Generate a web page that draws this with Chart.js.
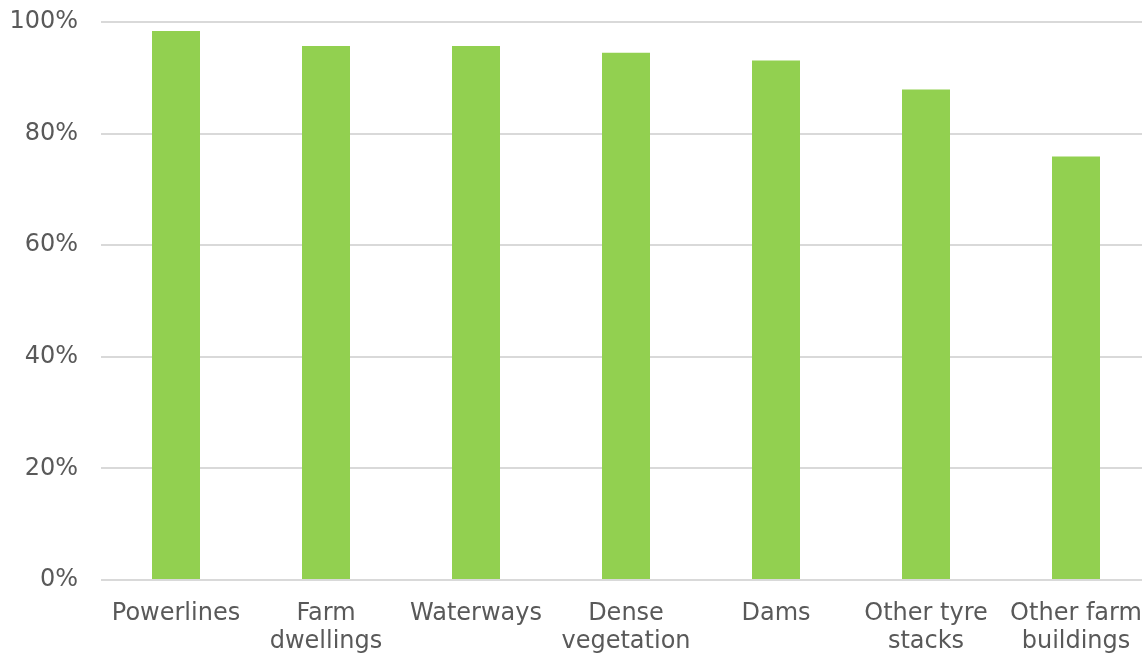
<!DOCTYPE html>
<html lang="en">
<head>
  <meta charset="UTF-8">
  <title>Risk sources</title>
  <script src="https://cdn.jsdelivr.net/npm/chart.js"></script>
  <style>
    html, body { margin: 0; padding: 0; overflow: hidden; background: #fff; }
    #wrap { position: absolute; left: 0; top: 0; width: 1160px; height: 680px; }
  </style>
</head>
<body>
  <div id="wrap"><canvas id="barChart"></canvas></div>

  <script>
    const categories = [
      'Powerlines',
      ['Farm', 'dwellings'],
      'Waterways',
      ['Dense', 'vegetation'],
      'Dams',
      ['Other tyre', 'stacks'],
      ['Other farm', 'buildings']
    ];
    const shares = [98.4, 95.7, 95.7, 94.5, 93.1, 87.9, 75.9];
    const yTicks = [0, 20, 40, 60, 80, 100];

    const textColor = '#595959';
    const font = { family: '"DejaVu Sans", Verdana, sans-serif', size: 24, lineHeight: 1.17 };

    new Chart(document.getElementById('barChart'), {
      type: 'bar',
      data: {
        labels: categories,
        datasets: [{
          data: shares,
          backgroundColor: '#92D050',
          categoryPercentage: 1,
          barPercentage: 0.32
        }]
      },
      options: {
        responsive: true,
        maintainAspectRatio: false,
        animation: false,
        layout: { padding: { top: 22, right: 9, left: 0, bottom: 0 } },
        plugins: {
          legend: { display: false },
          tooltip: { enabled: false }
        },
        scales: {
          x: {
            offset: true,
            grid: { display: false },
            border: { display: false },
            ticks: { color: textColor, font, padding: 12, maxRotation: 0, autoSkip: false },
            afterFit: s => { s.height = 100; }
          },
          y: {
            min: 0,
            max: 100,
            afterBuildTicks: s => { s.ticks = yTicks.map(v => ({ value: v })); },
            grid: { color: '#d9d9d9', lineWidth: 2, drawTicks: false },
            border: { display: false },
            ticks: { color: textColor, font, padding: 23, callback: v => v + '%' },
            afterFit: s => { s.width = 101; s.paddingTop = 0; s.paddingBottom = 0; }
          }
        }
      }
    });
  </script>
</body>
</html>
